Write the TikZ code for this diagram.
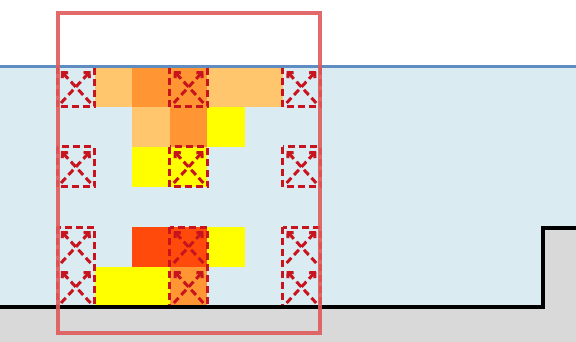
\documentclass[tikz,border=0pt]{standalone}
\usepackage{tikz}
\usetikzlibrary{arrows.meta}
\definecolor{cWater}{HTML}{DAEBF2}
\definecolor{cSurf}{HTML}{5F8DC2}
\definecolor{cGround}{HTML}{D9D9D9}
\definecolor{cLight}{HTML}{FFC66E}
\definecolor{cMid}{HTML}{FF9533}
\definecolor{cHot}{HTML}{FF4A0C}
\definecolor{cYel}{HTML}{FFFF00}
\definecolor{cBox}{HTML}{C8141E}
\definecolor{cFrame}{HTML}{E05A5A}
\tikzset{
  surf/.style     = {draw=cSurf, line width=3.5pt},
  bed/.style      = {draw=black, line width=3.2pt},
  cellbox/.style  = {draw=cBox, line width=3pt, dash pattern=on 7pt off 4pt},
  diag/.style     = {cellbox, -{Straight Barb[length=4pt, width=8pt]}},
  frame/.style    = {draw=cFrame, line width=3.5pt, opacity=0.9},
}
\begin{document}
\begin{tikzpicture}[x=1pt, y=-1pt]
  \useasboundingbox (0,0) rectangle (576,342);
  \fill[cWater] (0,66) -- (576,66) -- (576,228) -- (543,228) -- (543,307) -- (0,307) -- cycle;
  \fill[cGround] (0,307) -- (543,307) -- (543,228) -- (576,228) -- (576,342) -- (0,342) -- cycle;
  \foreach \c/\r/\col in {2/1/cLight,3/1/cMid,4/1/cMid,5/1/cLight,6/1/cLight,
                          3/2/cLight,4/2/cMid,5/2/cYel,
                          3/3/cYel,4/3/cYel,
                          3/5/cHot,4/5/cHot,5/5/cYel,
                          2/6/cYel,3/6/cYel,4/6/cMid}
    \fill[\col] ({57+37.6*(\c-1)},{67+40*(\r-1)}) rectangle ++(37.6,40);
  \foreach \c/\r/\n in {1/1/1,4/1/1,7/1/1,1/3/1,4/3/1,7/3/1,1/5/2,4/5/2,7/5/2} {
    \pgfmathsetmacro\xa{57+37.6*(\c-1)}
    \pgfmathsetmacro\ya{67+40*(\r-1)}
    \draw[cellbox] (\xa,\ya) rectangle ++(37.6,40*\n);
    \foreach \k in {1,...,\n} {
      \draw[diag] ({\xa+4},{\ya+40*\k-4}) -- ({\xa+33.6},{\ya+40*\k-36});
      \draw[diag] ({\xa+33.6},{\ya+40*\k-4}) -- ({\xa+4},{\ya+40*\k-36});
    }
  }
  \draw[surf] (0,66.5) -- (576,66.5);
  \draw[bed] (0,307) -- (543,307) -- (543,228) -- (576,228);
  \draw[frame] (58,13) rectangle (320,333);
\end{tikzpicture}
\end{document}
